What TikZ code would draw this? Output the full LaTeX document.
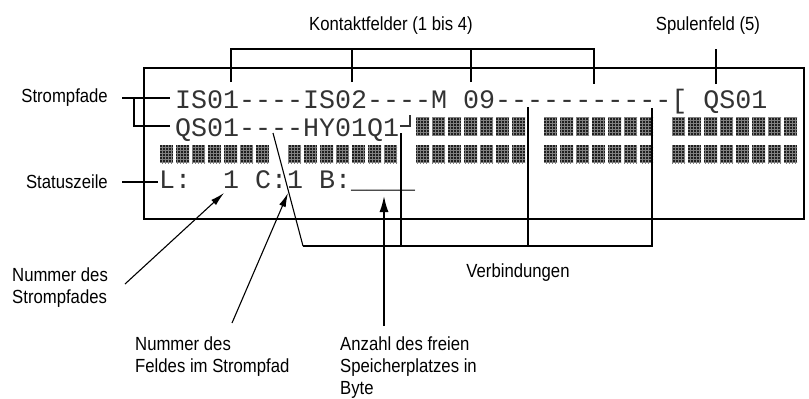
\documentclass[tikz,border=0pt]{standalone}
\usepackage{fontspec}
\setmainfont{Liberation Sans}[FakeStretch=0.88]
\setmonofont{Liberation Mono}
\usetikzlibrary{arrows.meta,patterns}

\tikzset{
  lbl/.style={font=\fontsize{19}{22}\selectfont, inner sep=0pt},
  lcd/.style={font=\ttfamily\fontsize{26.67}{28}\selectfont, text=black!80, inner sep=0pt, anchor=base west},
  lcdblock/.style={fill=black!88, postaction={pattern=grid, pattern color=black!50}},
  thinline/.style={line width=1.1pt},
  thickline/.style={line width=2.6pt},
  frame/.style={line width=1.2pt}
}
% one row of LCD blocks: top y, first column, last column
\newcommand\lcdblocks[3]{%
  \foreach \c in {#2,...,#3}{\path[lcdblock] (160+16*\c,#1) rectangle ++(13,18);}}

\begin{document}
\begin{tikzpicture}[x=1pt,y=-1pt,>={Latex[length=14pt,width=7pt]}]
\useasboundingbox (0,0) rectangle (809,399);

% display
\draw[frame] (144,68) rectangle (804,219);
\lcdblocks{117}{16}{22}
\lcdblocks{117}{24}{30}
\lcdblocks{117}{32}{39}
\lcdblocks{145}{0}{6}
\lcdblocks{145}{8}{14}
\lcdblocks{145}{16}{22}
\lcdblocks{145}{24}{30}
\lcdblocks{145}{32}{39}
\node[lcd] (row1) at (175,108) {IS01----IS02----M 09-----------{[} QS01};
\node[lcd] (row2) at (175,136) {QS01----HY01Q1};
\draw[line width=2pt,black!80] (400,126) -| (410,115);
\node[lcd] (row4) at (159,188) {L:~~1 C:1 B:\_\_\_\_};

% labels
\node[lbl,anchor=base] (kontakt) at (391,30) {Kontaktfelder (1 bis 4)};
\node[lbl,anchor=base] (spule) at (708,30) {Spulenfeld (5)};
\node[lbl,anchor=base east] (strompfade) at (108,102) {Strompfade};
\node[lbl,anchor=base east] (statuszeile) at (108,188) {Statuszeile};
\node[lbl,anchor=base] (verbind) at (518,277) {Verbindungen};
\node[lbl,align=left,anchor=north west] (nrpfad) at (12,268) {Nummer des\\Strompfades};
\node[lbl,align=left,anchor=north west] (nrfeld) at (135,337) {Nummer des\\Feldes im Strompfad};
\node[lbl,align=left,anchor=north west] (anzahl) at (340,337) {Anzahl des freien\\Speicherplatzes in\\Byte};

% Kontaktfelder and Spulenfeld
\coordinate (ktop) at (400,49);
\coordinate (kf1) at (231,82);
\coordinate (kf2) at (352,82);
\coordinate (kf3) at (471,82);
\coordinate (kf4) at (594,84);
\coordinate (sf) at (716,84);
\draw[thickline] (kf1) -- (kf1 |- ktop) -| (kf4);
\draw[thickline] (kf2) -- (kf2 |- ktop);
\draw[thickline] (kf3) -- (kf3 |- ktop);
\draw[thickline] (sf) -- (sf |- ktop);

% Strompfade and Statuszeile
\coordinate (sp1) at (122,98);
\coordinate (sp2) at (134,98);
\coordinate (r1in) at (170,98);
\coordinate (r2in) at (170,126);
\coordinate (st1) at (122,182);
\coordinate (r4in) at (158,182);
\draw[thinline] (sp1) -- (r1in);
\draw[thinline] (sp2) |- (r2in);
\draw[thinline] (st1) -- (r4in);

% arrows
\coordinate (a1) at (125,284);
\coordinate (p1) at (224,193);
\coordinate (a2) at (232,323);
\coordinate (p2) at (288,193);
\coordinate (a3) at (384,326);
\coordinate (p3) at (384,195);
\draw[thinline,->] (a1) -- (p1);
\draw[thinline,->] (a2) -- (p2);
\draw[thickline,-{Latex[length=17pt,width=9pt]}] (a3) -- (p3);

% Verbindungen
\coordinate (v0) at (273,133);
\coordinate (v1) at (303,246);
\coordinate (v2) at (401,133);
\coordinate (v3) at (528,107);
\coordinate (v4) at (652,108);
\draw[thinline] (v0) -- (v1);
\draw[thickline] (v1) -| (v4);
\draw[thickline] (v2) -- (v2 |- v1);
\draw[thickline] (v3) -- (v3 |- v1);
\end{tikzpicture}
\end{document}
